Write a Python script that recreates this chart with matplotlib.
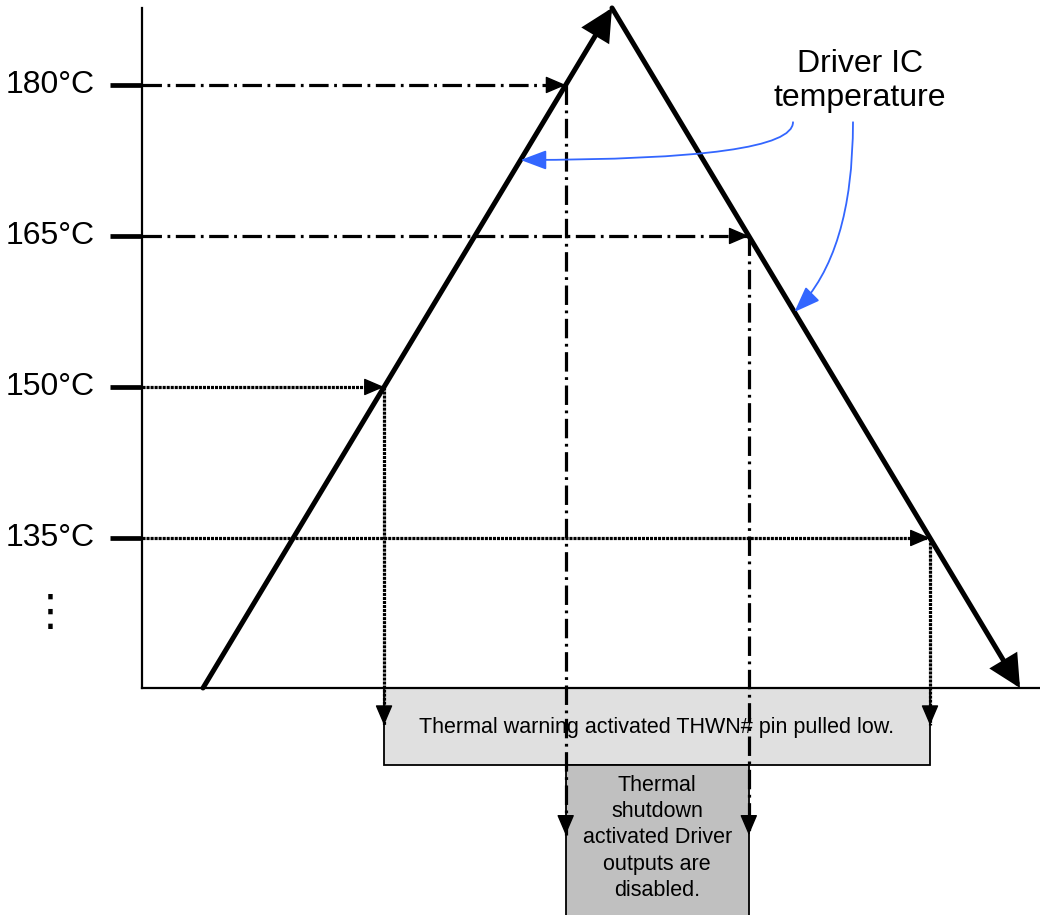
import numpy as np
import matplotlib.pyplot as plt
from matplotlib.patches import Rectangle

plt.rcParams['font.family'] = ['Liberation Sans', 'DejaVu Sans']
plt.rcParams['lines.scale_dashes'] = False

# seuils de temperature
thresholds = [180, 165, 150, 135]
threshold_labels = ['180°C', '165°C', '150°C', '135°C']
# quel flanc de la courbe chaque seuil atteint
threshold_side = ['rise', 'fall', 'rise', 'fall']

# profil de temperature du circuit (temps arbitraire)
t_profile = [203, 612, 1020]
temp_profile = [120.1, 187.65, 120.1]

warning_text = 'Thermal warning activated THWN# pin pulled low.'
shutdown_text = 'Thermal\nshutdown\nactivated Driver\noutputs are\ndisabled.'
curve_label = 'Driver IC\ntemperature'

# temperatures des fleches bleues sur la courbe
label_targets = [172.55, 157.45]
label_sides = ['rise', 'fall']

base = temp_profile[0]
axis_x = 142


def cross(T, side):
    if side == 'rise':
        return np.interp(T, temp_profile[:2], t_profile[:2])
    return np.interp(T, [temp_profile[2], temp_profile[1]], [t_profile[2], t_profile[1]])


fig = plt.figure(figsize=(10.4, 9.15), dpi=100)
ax = fig.add_axes([0, 0, 1, 1])
ax.set_xlim(0, 1040)
ax.set_ylim(97.55, 188.44)
ax.axis('off')

# boites
t150 = cross(150, 'rise')
t135 = cross(135, 'fall')
t180 = cross(180, 'rise')
t165 = cross(165, 'fall')
box_mid = 112.45
ax.add_patch(Rectangle((t150, box_mid), t135 - t150, base - box_mid,
                       facecolor='#e0e0e0', edgecolor='black', lw=1.3, zorder=1))
ax.add_patch(Rectangle((t180, 97.0), t165 - t180, box_mid - 97.0,
                       facecolor='#c0c0c0', edgecolor='black', lw=1.3, zorder=1))
ax.text((t150 + t135) / 2, (box_mid + base) / 2 - 0.1, warning_text,
        ha='center', va='center', fontsize=15.5, zorder=2)
ax.text((t180 + t165) / 2, (97.55 + box_mid) / 2 + 0.2, shutdown_text,
        ha='center', va='center', fontsize=15.5, linespacing=1.32, zorder=2)

# axes du schema
ax.plot([axis_x, axis_x], [base, temp_profile[1]], color='black', lw=1.6, zorder=3)
ax.plot([axis_x, 1040], [base, base], color='black', lw=1.6, zorder=3)
ax.hlines(thresholds, 110, axis_x, color='black', lw=3.4, zorder=3)
for T, lab in zip(thresholds, threshold_labels):
    ax.text(95, T, lab, ha='right', va='center', fontsize=23)
ax.text(50, 127.55, '⋮', ha='center', va='center', fontsize=31, family='DejaVu Sans')

# lignes de seuil
dashdot = (0, (14, 4, 2, 4))
dotted = (0, (2.2, 0.7))
head = '-|>,head_length=0.7,head_width=0.3'
for T, side in zip(thresholds, threshold_side):
    tx = cross(T, side)
    ls = dashdot if T >= 165 else dotted
    y_end = 105.5 if T >= 165 else 116.4
    ax.plot([axis_x, tx], [T, T], color='black', lw=2.3, linestyle=ls, zorder=3)
    ax.plot([tx, tx], [T, y_end], color='black', lw=2.3, linestyle=ls, zorder=3)
    ax.annotate('', xy=(tx, T), xytext=(tx - 2, T),
                arrowprops=dict(arrowstyle=head, mutation_scale=18, color='black', lw=1,
                                shrinkA=0, shrinkB=0), zorder=4)
    ax.annotate('', xy=(tx, y_end), xytext=(tx, y_end + 0.2),
                arrowprops=dict(arrowstyle=head, mutation_scale=18, color='black', lw=1,
                                shrinkA=0, shrinkB=0), zorder=4)

# courbe de temperature
for i in range(2):
    ax.annotate('', xy=(t_profile[i + 1], temp_profile[i + 1]),
                xytext=(t_profile[i], temp_profile[i]),
                arrowprops=dict(arrowstyle='-|>,head_length=0.8,head_width=0.4',
                                mutation_scale=22, color='black', lw=3.6,
                                shrinkA=0, shrinkB=0, joinstyle='miter'), zorder=5)

# etiquette et fleches bleues
ax.text(860, 180.4, curve_label, ha='center', va='center', fontsize=23)
starts = [(793, 176.3), (853, 176.3)]
conns = ['angle3,angleA=90,angleB=0', 'angle3,angleA=90,angleB=45']
for (sx, sy), T, side, cs in zip(starts, label_targets, label_sides, conns):
    ax.annotate('', xy=(cross(T, side), T), xytext=(sx, sy),
                arrowprops=dict(arrowstyle='-|>,head_length=0.8,head_width=0.3',
                                mutation_scale=20, color='#3366ff', lw=1.3,
                                shrinkA=0, shrinkB=0, connectionstyle=cs), zorder=6)

plt.savefig('out.png', dpi=100)
